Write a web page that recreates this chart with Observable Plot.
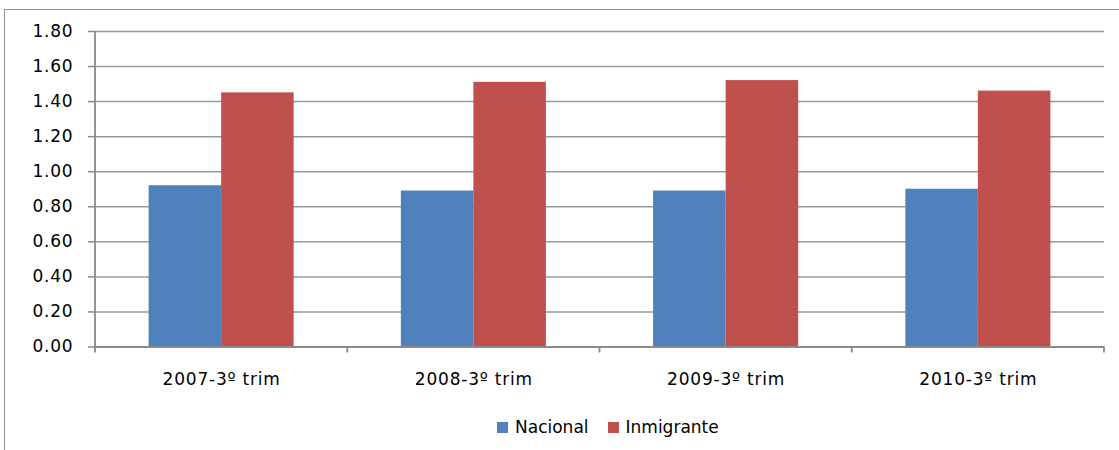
<!DOCTYPE html>
<html>
<head>
<meta charset="utf-8">
<script src="https://cdn.jsdelivr.net/npm/d3@7"></script>
<script src="https://cdn.jsdelivr.net/npm/@observablehq/plot@0.6"></script>
<style>
  body { margin: 0; background: #fff; }
  #wrap { position: relative; width: 1119px; height: 450px; overflow: hidden; font-family: "DejaVu Sans", sans-serif; color: #000; }
  #frame { position: absolute; left: 4px; top: 9px; right: -4px; bottom: -4px; border-top: 1.5px solid #929292; border-left: 1.5px solid #929292; pointer-events: none; }
  #legend { display: flex; align-items: center; padding-top: 14px; margin-left: 497px; font-size: 17px; line-height: 17px; }
  #legend .item { display: flex; align-items: center; margin-right: 19px; }
  #legend .swatch { width: 11px; height: 11px; margin-right: 7px; }
</style>
</head>
<body>
<div id="wrap">
  <div id="chart"></div>
  <div id="legend"></div>
  <div id="frame"></div>
</div>
<script>
// Quarters on the category axis
const quarters = ["2007-3º trim", "2008-3º trim", "2009-3º trim", "2010-3º trim"];
// Series names and values per quarter
const seriesNames = ["Nacional", "Inmigrante"];
const nacional = [0.92, 0.89, 0.89, 0.90];
const inmigrante = [1.45, 1.51, 1.52, 1.46];
// Value axis ticks
const yTicks = [0, 0.2, 0.4, 0.6, 0.8, 1.0, 1.2, 1.4, 1.6, 1.8];

const colors = ["#4F81BD", "#C0504D"];
const axisGray = "#8a8a8a";
const gridGray = "#999999";

const rows = [];
quarters.forEach((q, i) => {
  rows.push({quarter: q, series: seriesNames[0], value: nacional[i]});
  rows.push({quarter: q, series: seriesNames[1], value: inmigrante[i]});
});

const W = 1119, H = 405;
const margin = {top: 31, right: 15, bottom: 58.5, left: 95};
const band = (W - margin.left - margin.right) / quarters.length;
// Each bar takes this share of a category band; the pair is centred in the band
const barShare = 0.2875;
const outer = (1 - 2 * barShare) / 2 * band;
const inner = band - outer - barShare * band;

// Left axis line and the tick marks at category boundaries
function axisFrame(index, {x, y}) {
  const g = d3.create("svg:g").attr("stroke", axisGray).attr("stroke-width", 1.8);
  const y0 = y(0);
  const [left] = x.range();
  g.append("line").attr("x1", left).attr("x2", left).attr("y1", y(1.8)).attr("y2", y0 + 6);
  const edges = x.domain().map(d => x(d) + x.bandwidth());
  for (const e of edges) {
    g.append("line").attr("x1", e).attr("x2", e).attr("y1", y0).attr("y2", y0 + 6);
  }
  return g.node();
}

const chart = Plot.plot({
  width: W,
  height: H,
  marginTop: margin.top,
  marginRight: margin.right,
  marginBottom: margin.bottom,
  marginLeft: margin.left,
  style: {fontSize: "17px", fontFamily: "'DejaVu Sans', sans-serif", letterSpacing: "0.8px", background: "transparent", color: "#000", overflow: "visible"},
  x: {domain: quarters, padding: 0, round: false},
  y: {domain: [0, 1.8]},
  color: {domain: seriesNames, range: colors},
  marks: [
    Plot.gridY(yTicks, {stroke: gridGray, strokeOpacity: 1, strokeWidth: 1.5}),
    Plot.barY(rows.filter(d => d.series === seriesNames[0]), {
      x: "quarter", y: "value", fill: "series", insetLeft: outer, insetRight: inner
    }),
    Plot.barY(rows.filter(d => d.series === seriesNames[1]), {
      x: "quarter", y: "value", fill: "series", insetLeft: inner, insetRight: outer
    }),
    Plot.ruleY([0], {stroke: axisGray, strokeWidth: 2}),
    axisFrame,
    Plot.axisY({
      ticks: yTicks, tickFormat: d => d.toFixed(2), tickSize: 7, tickPadding: 15,
      stroke: axisGray, strokeWidth: 1.5, fill: "#000", label: null, fontSize: 17
    }),
    Plot.axisX({tickSize: 0, tickPadding: 26, fill: "#000", label: null, fontSize: 17})
  ]
});
document.getElementById("chart").appendChild(chart);

// Legend below the chart
const legend = d3.select("#legend");
seriesNames.forEach((name, i) => {
  const item = legend.append("div").attr("class", "item");
  item.append("div").attr("class", "swatch").style("background", colors[i]);
  item.append("span").text(name);
});
</script>
</body>
</html>
